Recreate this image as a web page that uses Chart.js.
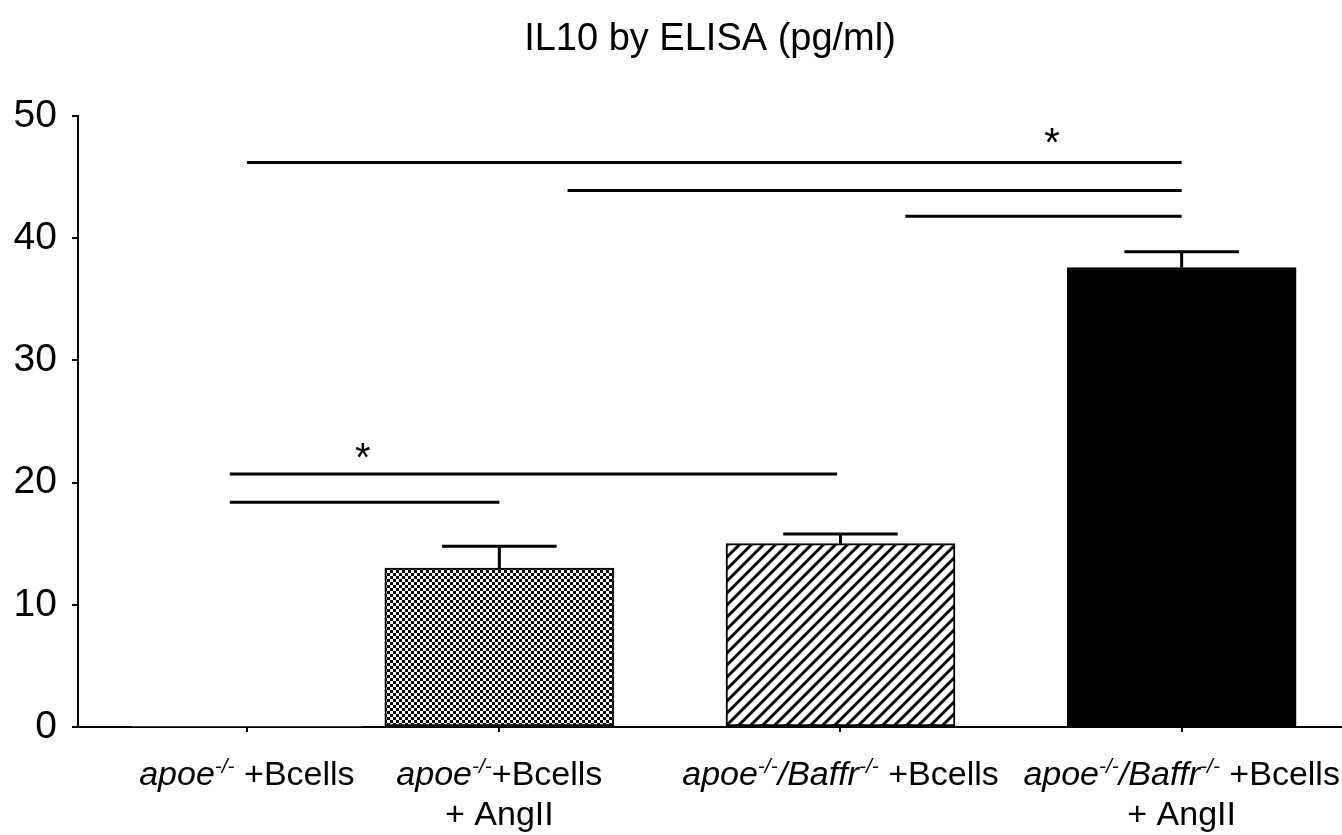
<!DOCTYPE html>
<html>
<head>
<meta charset="utf-8">
<script src="https://cdn.jsdelivr.net/npm/chart.js@4.4.0/dist/chart.umd.min.js"></script>
<style>
html, body { margin: 0; padding: 0; background: #fff; }
#wrap { width: 1342px; height: 835px; }
</style>
</head>
<body>
<div id="wrap"><canvas id="grafica"></canvas></div>
<script>
// categories (simple markup: <i> italic, <sup> superscript), one entry per line
const categories = [
    ['<i>apoe</i><sup>-/-</sup> +Bcells'],
    ['<i>apoe</i><sup>-/-</sup>+Bcells', '+ AngII'],
    ['<i>apoe</i><sup>-/-</sup><i>/Baffr</i><sup>-/-</sup> +Bcells'],
    ['<i>apoe</i><sup>-/-</sup><i>/Baffr</i><sup>-/-</sup> +Bcells', '+ AngII']
];
const positions = [0.26, 1, 2, 3];       // bar centres on the x axis
const values = [0, 13.0, 15.0, 37.6];     // IL10 pg/ml
const errTops = [0, 14.8, 15.8, 38.9];    // mean + SEM

// significance lines (x from, x to, y) and stars
const sigFrom = [0.26, 1.2, 2.19, 0.21, 0.21];
const sigTo = [3.0, 3.0, 3.0, 1.99, 1.0];
const sigY = [46.2, 43.9, 41.8, 20.7, 18.4];
const starX = [2.62, 0.6];
const starY = [48.6, 22.8];

const FONT = "'Liberation Sans', Arial, sans-serif";

function makeChecker() {
    const c = document.createElement('canvas');
    c.width = 6; c.height = 6;
    const g = c.getContext('2d');
    g.fillStyle = '#fff'; g.fillRect(0, 0, 6, 6);
    g.fillStyle = '#000'; g.fillRect(0, 0, 3, 3); g.fillRect(3, 3, 3, 3);
    return g.createPattern(c, 'repeat');
}
function makeHatch() {
    const c = document.createElement('canvas');
    c.width = 12; c.height = 12;
    const g = c.getContext('2d');
    g.fillStyle = '#fff'; g.fillRect(0, 0, 12, 12);
    g.strokeStyle = '#000'; g.lineWidth = 3;
    g.beginPath();
    g.moveTo(-6, 6); g.lineTo(6, -6);
    g.moveTo(0, 12); g.lineTo(12, 0);
    g.moveTo(6, 18); g.lineTo(18, 6);
    g.stroke();
    return g.createPattern(c, 'repeat');
}

const barColors = ['#fff', makeChecker(), makeHatch(), '#000'];

const sigDatasets = sigY.map((y, i) => ({
    type: 'line',
    data: [{ x: sigFrom[i], y: y }, { x: sigTo[i], y: y }],
    borderColor: '#000',
    borderWidth: 3,
    pointRadius: 0,
    fill: false
}));

function parseRich(str) {
    const parts = str.split(/(<i>.*?<\/i>|<sup>.*?<\/sup>)/).filter(s => s.length);
    return parts.map(p => {
        if (p.startsWith('<i>')) return { t: p.slice(3, -4), it: true, sup: false };
        if (p.startsWith('<sup>')) return { t: p.slice(5, -6), it: true, sup: true };
        return { t: p, it: false, sup: false };
    });
}

const errorBars = {
    id: 'errorBars',
    afterDatasetsDraw(chart) {
        const ctx = chart.ctx;
        const meta = chart.getDatasetMeta(0);
        const yS = chart.scales.y;
        ctx.save();
        ctx.strokeStyle = '#000';
        ctx.lineWidth = 3;
        meta.data.forEach((bar, i) => {
            if (errTops[i] <= values[i]) return;
            const yTop = yS.getPixelForValue(errTops[i]);
            const w = bar.width / 4;
            ctx.beginPath();
            ctx.moveTo(bar.x, bar.y);
            ctx.lineTo(bar.x, yTop);
            ctx.moveTo(bar.x - w, yTop);
            ctx.lineTo(bar.x + w, yTop);
            ctx.stroke();
        });
        ctx.restore();
    }
};

const annotations = {
    id: 'annotations',
    afterDraw(chart) {
        const ctx = chart.ctx;
        const xS = chart.scales.x, yS = chart.scales.y;
        ctx.save();
        ctx.fillStyle = '#000';
        // stars
        ctx.font = '40px ' + FONT;
        ctx.textAlign = 'center';
        ctx.textBaseline = 'alphabetic';
        starX.forEach((x, i) => {
            ctx.fillText('*', xS.getPixelForValue(x), yS.getPixelForValue(starY[i]) + 23);
        });
        // category labels
        const size = 34, supSize = 21;
        ctx.textAlign = 'left';
        categories.forEach((lines, i) => {
            const cx = xS.getPixelForValue(positions[i]);
            lines.forEach((line, j) => {
                const segs = parseRich(line);
                let total = 0;
                segs.forEach(s => {
                    ctx.font = (s.it ? 'italic ' : '') + (s.sup ? supSize : size) + 'px ' + FONT;
                    s.w = ctx.measureText(s.t).width;
                    total += s.w;
                });
                let x = cx - total / 2;
                const base = xS.top + 58 + j * 40;
                segs.forEach(s => {
                    ctx.font = (s.it ? 'italic ' : '') + (s.sup ? supSize : size) + 'px ' + FONT;
                    ctx.fillText(s.t, x, s.sup ? base - 12 : base);
                    x += s.w;
                });
            });
        });
        ctx.restore();
    }
};

const graph = document.querySelector('#grafica');

const data = {
    datasets: [{
        type: 'bar',
        data: positions.map((x, i) => ({ x: x, y: values[i] })),
        backgroundColor: barColors,
        borderColor: '#000',
        borderWidth: [0, 2, 2, 2],
        borderSkipped: false,
        barThickness: 229
    }, ...sigDatasets]
};

const config = {
    type: 'bar',
    data: data,
    plugins: [errorBars, annotations],
    options: {
        responsive: true,
        maintainAspectRatio: false,
        animation: false,
        layout: { padding: 0 },
        plugins: {
            legend: { display: false },
            tooltip: { enabled: false },
            title: {
                display: true,
                text: 'IL10 by ELISA (pg/ml)',
                color: '#000',
                fullSize: false,
                font: { family: FONT, size: 38, weight: 'normal' },
                padding: { top: 17, bottom: 53.4 }
            }
        },
        scales: {
            x: {
                type: 'linear',
                min: -0.235,
                max: 3.47,
                offset: false,
                afterBuildTicks: s => { s.ticks = positions.map(v => ({ value: v })); },
                afterFit: s => { s.height = 108; },
                ticks: { display: false },
                grid: { drawOnChartArea: false, offset: false, color: '#000', lineWidth: 2, tickLength: 5 },
                border: { display: true, color: '#000', width: 2 }
            },
            y: {
                min: 0,
                max: 50,
                afterFit: s => { s.width = 78; },
                ticks: { stepSize: 10, color: '#000', padding: 15, font: { family: FONT, size: 39 } },
                grid: { drawOnChartArea: false, color: '#000', lineWidth: 2, tickLength: 6 },
                border: { display: true, color: '#000', width: 2 }
            }
        }
    }
};

new Chart(graph, config);
</script>
</body>
</html>
